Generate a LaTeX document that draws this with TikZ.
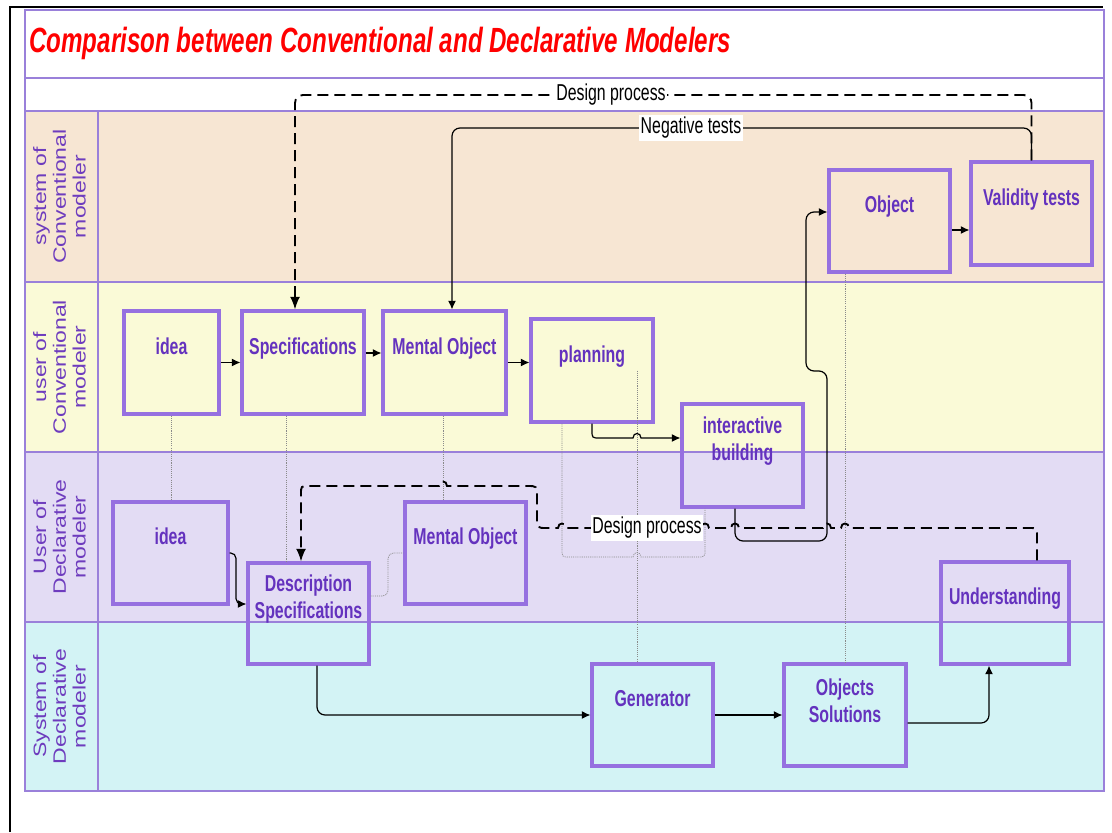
\documentclass[tikz,border=0pt]{standalone}
\usepackage{fontspec}
\usepackage{graphicx}
\setmainfont{Liberation Sans}
\newfontfamily\narrowfont[FakeStretch=0.69]{Liberation Sans}
\usetikzlibrary{arrows.meta}

\definecolor{cLaneA}{HTML}{F7E6D3}
\definecolor{cLaneB}{HTML}{FAFAD7}
\definecolor{cLaneC}{HTML}{E3DCF4}
\definecolor{cLaneD}{HTML}{D3F3F5}
\definecolor{cRule}{HTML}{9A80DA}
\definecolor{cBoxLine}{HTML}{9670E0}
\definecolor{cBoxText}{HTML}{6432BE}
\definecolor{cLaneText}{HTML}{6E3CBE}
\definecolor{cTrace}{HTML}{8A8A8A}

\begin{document}
\begin{tikzpicture}[x=0.75pt, y=-0.75pt,
  band/.style={draw=cRule, line width=1.1pt},
  procbox/.style={draw=cBoxLine, line width=2.3pt, inner sep=0pt},
  boxlabel/.style={font=\narrowfont\bfseries\fontsize{17.25pt}{20.25pt}\selectfont,
    text=cBoxText, align=center, inner sep=0pt},
  oneline/.style={text height=12.5pt, text depth=4pt},
  lanelabel/.style={font=\fontsize{17.25pt}{19pt}\selectfont, text=cLaneText,
    rotate=90, inner sep=0pt},
  flow/.style={draw=black, line width=0.9pt, -{Latex[length=6.5pt,width=6pt]}},
  design/.style={draw=black, line width=1.4pt, dash pattern=on 8.25pt off 4.5pt,
    -{Latex[length=9.5pt,width=7.5pt]}},
  trace/.style={draw=cTrace, line width=0.55pt, dash pattern=on 0.8pt off 0.8pt},
  pathlabel/.style={font=\narrowfont\fontsize{17.25pt}{20pt}\selectfont, fill=white,
    inner xsep=1pt, inner ysep=1.5pt},
]
\useasboundingbox (0,0) rectangle (1112,832);

% ---- table: title row, process row and the four swimlanes ----
\draw[band, fill=white] (25,10) rectangle (1104,78);
\draw[band, fill=white] (25,78) rectangle (1104,111);
\draw[band, fill=cLaneA] (25,111) rectangle (1104,282);
\draw[band, fill=cLaneB] (25,282) rectangle (1104,452);
\draw[band, fill=cLaneC] (25,452) rectangle (1104,622);
\draw[band, fill=cLaneD] (25,622) rectangle (1104,791);
\draw[band] (98,111) -- (98,791);

% outer frame
\draw[black, line width=1.9pt] (10,832) -- (10,7) -- (1103,7);

\node[anchor=base west, inner sep=0pt, text=red,
  font=\narrowfont\bfseries\itshape\fontsize{26.25pt}{30pt}\selectfont]
  (title) at (29,52) {Comparison between Conventional and Declarative Modelers};

% lane headings
\node[lanelabel] (laneA) at (62,196.5)
  {\scalebox{1}[0.78]{\begin{tabular}{@{}c@{}}system of\\Conventional\\modeler\end{tabular}}};
\node[lanelabel] (laneB) at (62,367)
  {\scalebox{1}[0.78]{\begin{tabular}{@{}c@{}}user of\\Conventional\\modeler\end{tabular}}};
\node[lanelabel] (laneC) at (62,537)
  {\scalebox{1}[0.78]{\begin{tabular}{@{}c@{}}User of\\Declarative\\modeler\end{tabular}}};
\node[lanelabel] (laneD) at (62,706.5)
  {\scalebox{1}[0.78]{\begin{tabular}{@{}c@{}}System of\\Declarative\\modeler\end{tabular}}};

% ---- process boxes ----
\node[procbox, minimum width=71.25pt, minimum height=77.25pt] (ideaC) at (171.5,362.5) {};
\node[procbox, minimum width=91.5pt, minimum height=77.25pt] (specC) at (303,362.5) {};
\node[procbox, minimum width=92.25pt, minimum height=77.25pt] (mentalC) at (444.5,362.5) {};
\node[procbox, minimum width=91.5pt, minimum height=77.25pt] (plan) at (592,370.5) {};
\node[procbox, minimum width=90.75pt, minimum height=77.25pt] (build) at (742.5,455.5) {};
\node[procbox, minimum width=90.75pt, minimum height=76.5pt] (object) at (889.5,221) {};
\node[procbox, minimum width=90.75pt, minimum height=77.25pt] (valid) at (1031.5,213.5) {};
\node[procbox, minimum width=86.25pt, minimum height=76.5pt] (ideaD) at (170.5,553) {};
\node[procbox, minimum width=90.75pt, minimum height=75.75pt] (descD) at (308.5,613.5) {};
\node[procbox, minimum width=90.75pt, minimum height=76.5pt] (mentalD) at (465.5,553) {};
\node[procbox, minimum width=96pt, minimum height=76.5pt] (underD) at (1005,613) {};
\node[procbox, minimum width=90.75pt, minimum height=76.5pt] (gen) at (652.5,715) {};
\node[procbox, minimum width=91.5pt, minimum height=76.5pt] (sols) at (845,715) {};

\node[boxlabel, oneline] (ideaC-t) at ([yshift=10.5pt]ideaC.center) {idea};
\node[boxlabel, oneline] (specC-t) at ([yshift=10.5pt]specC.center) {Specifications};
\node[boxlabel, oneline] (mentalC-t) at ([yshift=10.5pt]mentalC.center) {Mental Object};
\node[boxlabel, oneline] (plan-t) at ([yshift=10.5pt]plan.center) {planning};
\node[boxlabel] (build-t) at ([yshift=10.5pt]build.center) {interactive\\building};
\node[boxlabel, oneline] (object-t) at ([yshift=10.5pt]object.center) {Object};
\node[boxlabel, oneline] (valid-t) at ([yshift=10.5pt]valid.center) {Validity tests};
\node[boxlabel, oneline] (ideaD-t) at ([yshift=10.5pt]ideaD.center) {idea};
\node[boxlabel] (descD-t) at ([yshift=10.5pt]descD.center) {Description\\Specifications};
\node[boxlabel, oneline] (mentalD-t) at ([yshift=10.5pt]mentalD.center) {Mental Object};
\node[boxlabel, oneline] (underD-t) at ([yshift=10.5pt]underD.center) {Understanding};
\node[boxlabel, oneline] (gen-t) at ([yshift=10.5pt]gen.center) {Generator};
\node[boxlabel] (sols-t) at ([yshift=10.5pt]sols.center) {Objects\\Solutions};

% ---- dotted correspondences ----
\draw[trace] (ideaC.south) -- (ideaC.south |- ideaD.north);
\draw[trace] (specC.south -| 286,0) -- (descD.north -| 286,0);
\draw[trace] (mentalC.south -| 443.5,0) -- (mentalD.north -| 443.5,0);
\draw[trace, rounded corners=4pt] (descD.east |- 0,596) -| (388,553) -- (mentalD.west);
\draw[trace] (plan.center -| 637,0) -- (gen.north -| 637,0);
\draw[trace] (object.south -| 845,0) -- (sols.north);
\draw[trace] (plan.south -| 562,0) -- (562,549) .. controls (562,557) .. (570,557)
  -- (633,557) .. controls (633,551) and (641,551) .. (641,557)
  -- (697,557) .. controls (705,557) .. (705,549) -- (build.south -| 705,0);

% ---- solid flows ----
\draw[flow, rounded corners=6pt] (valid.north) |- (452,128) -- (mentalC.north -| 452,0);
\draw[flow] (ideaC.east) -- (specC.west);
\draw[flow] (specC.east |- 0,353) -- (mentalC.west |- 0,353);
\draw[flow] (mentalC.east) -- (plan.west |- mentalC.east);
\draw[flow] (plan.south) -- (592,430) .. controls (592,438) .. (600,438)
  -- (633,438) .. controls (633,432) and (641,432) .. (641,438) -- (build.west |- 0,438);
\draw[flow, rounded corners=6pt] (build.south -| 735,0) |- (827,541) |- (806,371)
  |- (object.west |- 0,212);
\draw[flow] (object.east |- 0,230) -- (valid.west |- 0,230);
\draw[flow, rounded corners=4pt] (ideaD.east) -- (236,553) -- (236,604) -- (descD.west |- 0,604);
\draw[flow, rounded corners=6pt] (descD.south -| 317,0) |- (gen.west);
\draw[flow] (gen.east) -- (sols.west);
\draw[flow, rounded corners=6pt] (sols.east |- 0,723) -| (underD.south -| 989,0);

% ---- dashed design process loops ----
\draw[design, rounded corners=6pt] (valid.north) |- (295,95) -- (specC.north -| 295,0);
\draw[design] (underD.north -| 1037,0) -- (1037,536) .. controls (1037,528) .. (1029,528)
  -- (849,528) .. controls (849,522) and (841,522) .. (841,528)
  -- (831,528) .. controls (831,522) and (823,522) .. (823,528)
  -- (739,528) .. controls (739,522) and (731,522) .. (731,528)
  -- (709,528) .. controls (709,522) and (701,522) .. (701,528)
  -- (566,528) .. controls (566,522) and (558,522) .. (558,528)
  -- (547,528) .. controls (537,528) .. (537,518)
  -- (537,496) .. controls (537,486) .. (527,486)
  -- (447,486) .. controls (447,480) and (439,480) .. (439,486)
  -- (309,486) .. controls (301,486) .. (301,494)
  -- (descD.north -| 301,0);

% ---- connector labels ----
\node[pathlabel] (designTop) at (611,95) {Design process};
\node[pathlabel] (negative) at (691,128) {Negative tests};
\node[pathlabel] (designLow) at (647,528) {Design process};
\end{tikzpicture}
\end{document}
